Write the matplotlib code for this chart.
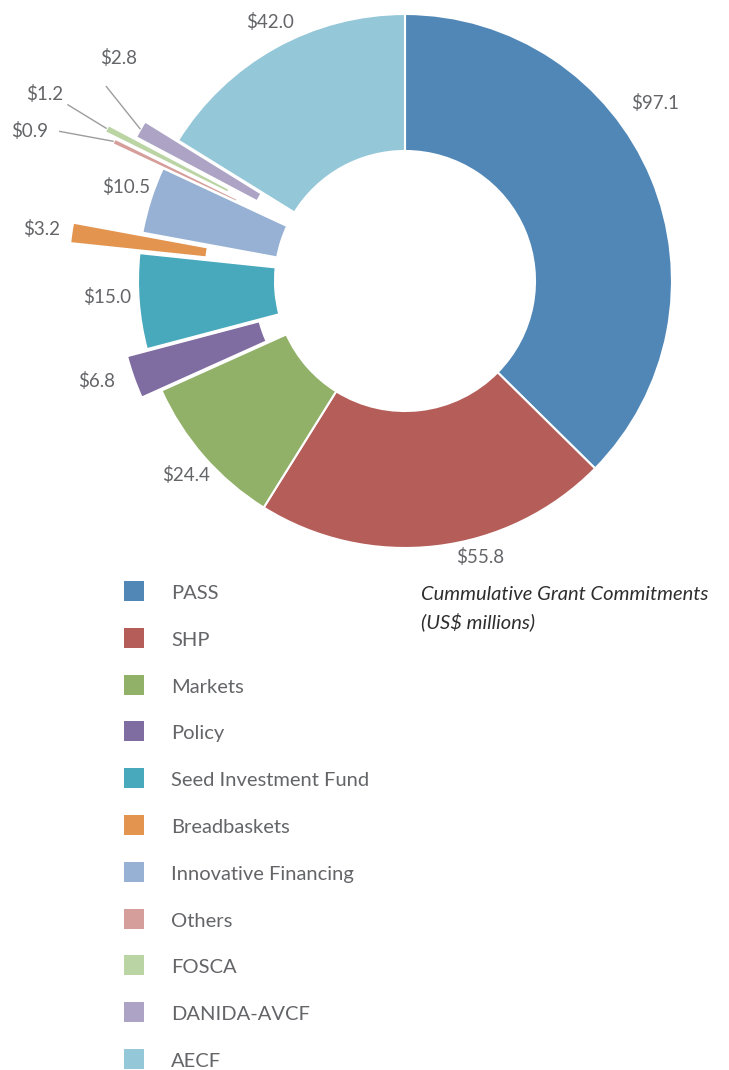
import numpy as np
import matplotlib
matplotlib.use("Agg")
import matplotlib.pyplot as plt
from matplotlib.patches import Rectangle

plt.rcParams["font.family"] = ["Lato", "DejaVu Sans"]

# Cumulative grant commitments, US$ millions
categories = ["PASS", "SHP", "Markets", "Policy", "Seed Investment Fund",
              "Breadbaskets", "Innovative Financing", "Others", "FOSCA",
              "DANIDA-AVCF", "AECF"]
values = [97.1, 55.8, 24.4, 6.8, 15.0, 3.2, 10.5, 0.9, 1.2, 2.8, 42.0]
colors = ["#5087b6", "#b55e59", "#91b068", "#7f6ca0", "#48a8bc", "#e3944f",
          "#96b1d3", "#d69e9a", "#bad4a3", "#aca3c5", "#94c8d9"]
# pull-out of each slice (px)
explode = [0, 0, 0, 21, 0, 70, 0, 56, 68, 38, 0]

# value label placement (angle in degrees, distance from centre in px)
label_pos = [(35.4, 307), (-74.8, 286), (-138.5, 293), (-162, 324), (-177, 298),
             (171.8, 367), (161.4, 294), (158.2, 404), (152.5, 406), (142, 363),
             (117.5, 292)]
# leader line starts for the thin slices
leader_start = {7: (156.6, 377), 8: (152.4, 381), 9: (146.9, 357)}

W, H = 729, 1070
cx, cy = 405, H - 281
R, ring = 267, 137
grey = "#646568"

fig = plt.figure(figsize=(W / 100, H / 100), dpi=100)
ax = fig.add_axes([0, 0, 1, 1])

wedges, _ = ax.pie(values, colors=colors, explode=explode, radius=R,
                   center=(cx, cy), startangle=90, counterclock=False,
                   wedgeprops=dict(width=ring, edgecolor="white", linewidth=1.5))

for i, v in enumerate(values):
    ang, dist = label_pos[i]
    a = np.radians(ang)
    ax.text(cx + dist * np.cos(a), cy + dist * np.sin(a), f"\\${v:.1f}",
            ha="center", va="center", fontsize=13.5, color=grey)

for i, (ang, dist) in leader_start.items():
    w = wedges[i]
    mid = np.radians((w.theta1 + w.theta2) / 2)
    ex, ey = w.center[0] + w.r * np.cos(mid), w.center[1] + w.r * np.sin(mid)
    a = np.radians(ang)
    ax.plot([cx + dist * np.cos(a), ex], [cy + dist * np.sin(a), ey],
            color="#9d9d9d", lw=1, solid_capstyle="butt")

# legend column
for i, name in enumerate(categories):
    yc = H - (591 + i * 46.8)
    ax.add_patch(Rectangle((124, yc - 10), 20, 20, color=colors[i], lw=0))
    ax.text(171, yc - 1, name, ha="left", va="center_baseline", fontsize=14.5,
            color=grey)

ax.text(421, H - 594, "Cummulative Grant Commitments", ha="left", va="center",
        fontsize=14.5, style="italic", color="#2e2e2e")
ax.text(421, H - 622, "(US\\$ millions)", ha="left", va="center",
        fontsize=14.5, style="italic", color="#2e2e2e")

ax.set_xlim(0, W)
ax.set_ylim(0, H)
ax.set_aspect("equal")
ax.axis("off")

fig.savefig("out.png", dpi=100, facecolor="white")
